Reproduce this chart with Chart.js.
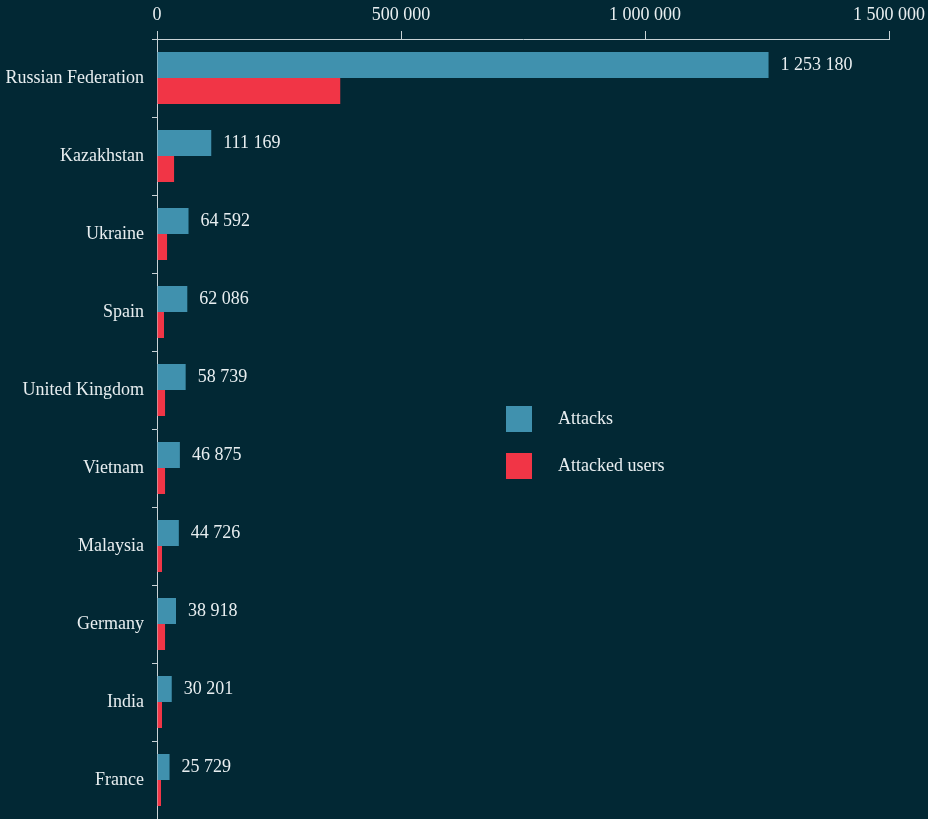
<!DOCTYPE html>
<html>
<head>
<meta charset="utf-8">
<script src="https://cdn.jsdelivr.net/npm/chart.js@4/dist/chart.umd.min.js"></script>
<style>
  html, body { margin: 0; padding: 0; background: #022834; }
  #wrap { width: 928px; height: 819px; position: relative; }
</style>
</head>
<body>
<div id="wrap"><canvas id="chart"></canvas></div>
<script>
const countries = ['Russian Federation', 'Kazakhstan', 'Ukraine', 'Spain', 'United Kingdom',
  'Vietnam', 'Malaysia', 'Germany', 'India', 'France'];
const attacks = [1253180, 111169, 64592, 62086, 58739, 46875, 44726, 38918, 30201, 25729];
const attackedUsers = [375500, 35000, 20600, 14400, 16500, 16500, 10300, 16500, 10300, 8200];
const xTicks = [0, 500000, 1000000, 1500000];

const textColor = '#e8eef0';
const lineColor = '#c9d3d6';
const fontFamily = '"Liberation Serif", "Times New Roman", serif';
const fontSize = 18;

function fmt(v) {
    return String(v).replace(/\B(?=(\d{3})+(?!\d))/g, ' ');
}

// value labels at the end of the attacks bars
const valueLabels = {
    id: 'valueLabels',
    afterDatasetsDraw(chart) {
        const ctx = chart.ctx;
        const meta = chart.getDatasetMeta(0);
        ctx.save();
        ctx.font = fontSize + 'px ' + fontFamily;
        ctx.fillStyle = textColor;
        ctx.textAlign = 'left';
        ctx.textBaseline = 'middle';
        meta.data.forEach((bar, i) => {
            ctx.fillText(fmt(chart.data.datasets[0].data[i]), bar.x + 12, bar.y);
        });
        ctx.restore();
    }
};

// legend drawn in the middle of the plot
const sideLegend = {
    id: 'sideLegend',
    afterDraw(chart) {
        const ctx = chart.ctx;
        ctx.save();
        ctx.font = fontSize + 'px ' + fontFamily;
        ctx.textBaseline = 'middle';
        chart.data.datasets.forEach((ds, i) => {
            const y = 406 + i * 47;
            ctx.fillStyle = ds.backgroundColor;
            ctx.fillRect(506, y, 26, 26);
            ctx.fillStyle = textColor;
            ctx.fillText(ds.label, 558, y + 13);
        });
        ctx.restore();
    }
};

new Chart(document.getElementById('chart'), {
    type: 'bar',
    data: {
        labels: countries,
        datasets: [
            {
                label: 'Attacks',
                data: attacks,
                backgroundColor: '#4091ae',
                categoryPercentage: 0.667,
                barPercentage: 1,
            },
            {
                label: 'Attacked users',
                data: attackedUsers,
                backgroundColor: '#f13546',
                categoryPercentage: 0.667,
                barPercentage: 1,
            }
        ]
    },
    options: {
        indexAxis: 'y',
        responsive: true,
        maintainAspectRatio: false,
        animation: false,
        layout: { padding: { left: 0, right: 39, top: 0, bottom: 0 } },
        plugins: {
            legend: { display: false },
            tooltip: { enabled: false },
        },
        scales: {
            x: {
                position: 'top',
                min: 0,
                max: 1500000,
                afterBuildTicks(scale) {
                    scale.ticks = xTicks.map(v => ({ value: v }));
                },
                afterFit(scale) {
                    scale.height = 39;
                    scale.paddingLeft = 0;
                    scale.paddingRight = 0;
                },
                border: { color: lineColor, width: 1 },
                grid: { drawOnChartArea: false, tickLength: 8, color: lineColor },
                ticks: {
                    color: textColor,
                    font: { family: fontFamily, size: fontSize },
                    padding: 5,
                    maxRotation: 0,
                    callback: v => fmt(v),
                },
            },
            y: {
                afterFit(scale) {
                    scale.width = 157;
                    scale.paddingTop = 0;
                    scale.paddingBottom = 0;
                },
                border: { color: lineColor, width: 1 },
                grid: { drawOnChartArea: false, offset: true, tickLength: 5, color: lineColor },
                ticks: {
                    color: textColor,
                    font: { family: fontFamily, size: fontSize },
                    padding: 8,
                },
            }
        }
    },
    plugins: [valueLabels, sideLegend]
});
</script>
</body>
</html>
